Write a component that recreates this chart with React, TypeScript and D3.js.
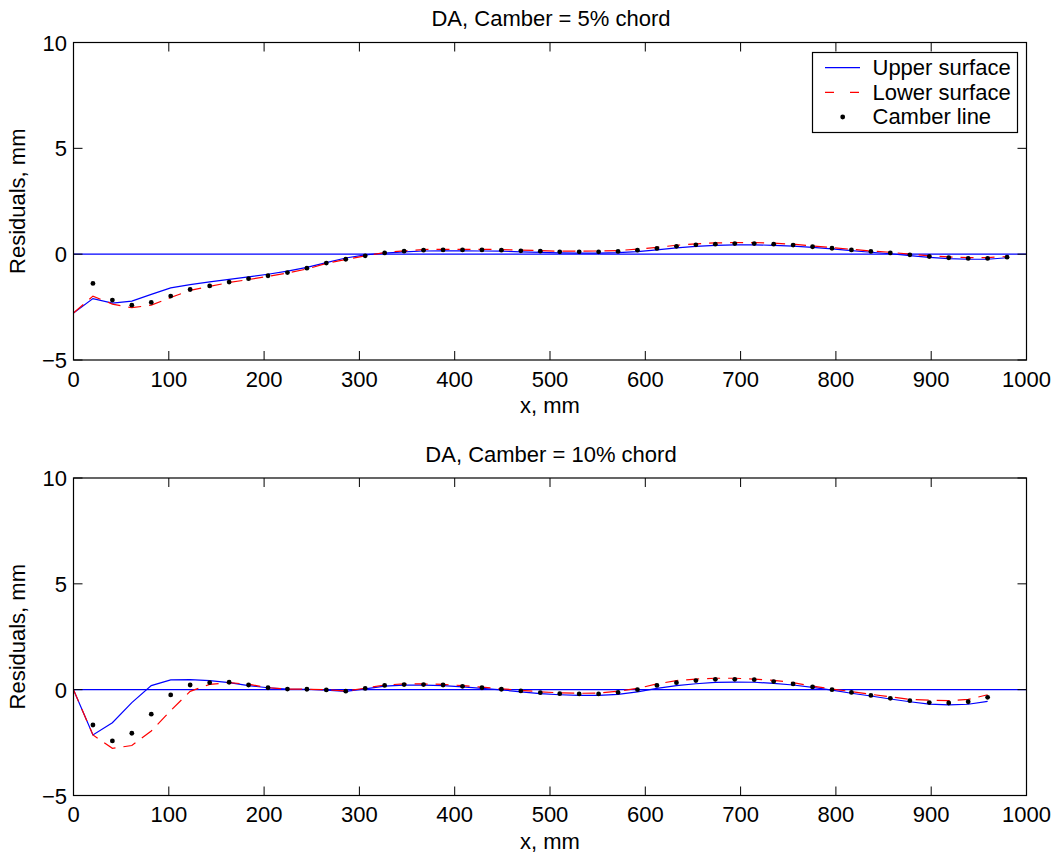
import React from "react";
import * as d3 from "d3";

// x positions of the stations (mm)
const stationsX = [
  0, 20.4, 40.8, 61.2, 81.6, 102.0, 122.4, 142.9, 163.3, 183.7, 204.1, 224.5, 244.9,
  265.3, 285.7, 306.1, 326.5, 346.9, 367.3, 387.8, 408.2, 428.6, 449.0, 469.4, 489.8,
  510.2, 530.6, 551.0, 571.4, 591.8, 612.2, 632.7, 653.1, 673.5, 693.9, 714.3, 734.7,
  755.1, 775.5, 795.9, 816.3, 836.7, 857.1, 877.6, 898.0, 918.4, 938.8, 959.2, 979.6,
];

const xTicks = [0, 100, 200, 300, 400, 500, 600, 700, 800, 900, 1000];
const yTicks = [-5, 0, 5, 10];
const yTickLabels = ["\u22125", "0", "5", "10"];

// Panel 1: camber = 5% chord (stations 0..48)
const upper5 = [
  -2.78, -2.1, -2.31, -2.22, -1.9, -1.59, -1.44, -1.31, -1.19, -1.07, -0.95, -0.8, -0.62,
  -0.4, -0.18, -0.03, 0.05, 0.11, 0.15, 0.16, 0.16, 0.15, 0.14, 0.11, 0.08,
  0.06, 0.05, 0.05, 0.07, 0.12, 0.2, 0.3, 0.37, 0.42, 0.44, 0.44, 0.42,
  0.38, 0.32, 0.25, 0.17, 0.09, 0.02, -0.07, -0.15, -0.21, -0.24, -0.24, -0.17,
];
const lower5 = [
  -2.78, -1.98, -2.36, -2.53, -2.41, -2.05, -1.71, -1.52, -1.34, -1.2, -1.05, -0.89, -0.7,
  -0.44, -0.25, -0.08, 0.07, 0.16, 0.22, 0.23, 0.23, 0.23, 0.22, 0.19, 0.17,
  0.14, 0.14, 0.15, 0.17, 0.24, 0.32, 0.42, 0.49, 0.53, 0.55, 0.55, 0.52,
  0.47, 0.39, 0.31, 0.23, 0.15, 0.09, 0.0, -0.08, -0.13, -0.16, -0.16, -0.11,
];
// camber dots at stations 1..48
const camber5 = [
  -1.38, -2.17, -2.41, -2.28, -1.98, -1.67, -1.5, -1.32, -1.16, -1.02, -0.87, -0.66,
  -0.42, -0.24, -0.08, 0.06, 0.14, 0.19, 0.2, 0.2, 0.2, 0.19, 0.16, 0.14,
  0.11, 0.11, 0.11, 0.13, 0.19, 0.27, 0.37, 0.44, 0.47, 0.5, 0.5, 0.47,
  0.43, 0.35, 0.28, 0.2, 0.13, 0.06, -0.03, -0.11, -0.17, -0.2, -0.2, -0.14,
];

// Panel 2: camber = 10% chord (stations 0..47)
const upper10 = [
  0.0, -2.14, -1.56, -0.61, 0.19, 0.46, 0.47, 0.43, 0.33, 0.19, 0.09, 0.03, 0.02,
  -0.02, -0.08, 0.04, 0.17, 0.21, 0.21, 0.19, 0.13, 0.06, -0.01, -0.1, -0.19,
  -0.24, -0.27, -0.27, -0.22, -0.1, 0.06, 0.19, 0.28, 0.34, 0.36, 0.35, 0.3,
  0.22, 0.11, -0.02, -0.17, -0.3, -0.44, -0.57, -0.68, -0.72, -0.69, -0.55,
];
const lower10 = [
  0.0, -2.14, -2.77, -2.64, -1.95, -0.99, -0.08, 0.25, 0.33, 0.26, 0.09, 0.03, 0.02,
  0.0, -0.06, 0.07, 0.22, 0.27, 0.27, 0.25, 0.19, 0.12, 0.04, -0.03, -0.1,
  -0.15, -0.17, -0.16, -0.07, 0.06, 0.27, 0.43, 0.5, 0.54, 0.54, 0.5, 0.44,
  0.33, 0.17, 0.03, -0.09, -0.22, -0.34, -0.46, -0.5, -0.52, -0.46, -0.24,
];
// camber dots at stations 1..47
const camber10 = [
  -1.67, -2.42, -2.06, -1.16, -0.25, 0.22, 0.33, 0.35, 0.22, 0.09, 0.03, 0.02,
  -0.01, -0.07, 0.06, 0.2, 0.24, 0.24, 0.22, 0.16, 0.09, 0.02, -0.06, -0.14,
  -0.19, -0.2, -0.2, -0.13, 0.0, 0.2, 0.33, 0.43, 0.49, 0.49, 0.47, 0.38,
  0.27, 0.13, 0.0, -0.13, -0.27, -0.41, -0.52, -0.61, -0.63, -0.57, -0.36,
];

const legendLabels = ["Upper surface", "Lower surface", "Camber line"];

const FONT = "'Liberation Sans', Arial, Helvetica, sans-serif";
const FS = 22;
const LEFT = 73.5;
const RIGHT = 1026.5;
const H = 317.5;
const TICK = 9;
const DASH = "13,8";

type PanelProps = {
  top: number;
  title: string;
  upper: number[];
  lower: number[];
  camber: number[];
  legend?: boolean;
};

function Panel({ top, title, upper, lower, camber, legend }: PanelProps) {
  const x = d3.scaleLinear().domain([0, 1000]).range([LEFT, RIGHT]);
  const y = d3.scaleLinear().domain([-5, 10]).range([top + H, top]);
  const bottom = top + H;
  const mid = (LEFT + RIGHT) / 2;

  const upPts: [number, number][] = upper.map((v, i) => [stationsX[i], v]);
  const loPts: [number, number][] = lower.map((v, i) => [stationsX[i], v]);
  const line = d3
    .line<[number, number]>()
    .x((d) => x(d[0]))
    .y((d) => y(d[1]));

  return (
    <g>
      <rect x={LEFT} y={top} width={RIGHT - LEFT} height={H} fill="#fff" />
      {/* zero line */}
      <line x1={x(0)} x2={x(1000)} y1={y(0)} y2={y(0)} stroke="#0000ff" strokeWidth={1.2} />
      <path d={line(upPts) || ""} fill="none" stroke="#0000ff" strokeWidth={1.2} />
      <path
        d={line(loPts) || ""}
        fill="none"
        stroke="#ff0000"
        strokeWidth={1.2}
        strokeDasharray={DASH}
      />
      {camber.map((v, i) => (
        <circle key={i} cx={x(stationsX[i + 1])} cy={y(v)} r={2.4} fill="#000" />
      ))}

      {/* frame */}
      <rect
        x={LEFT}
        y={top}
        width={RIGHT - LEFT}
        height={H}
        fill="none"
        stroke="#000"
        strokeWidth={1.2}
      />
      {/* x ticks */}
      {xTicks.map((t) => (
        <g key={"x" + t}>
          <line x1={x(t)} x2={x(t)} y1={bottom} y2={bottom - TICK} stroke="#000" strokeWidth={1} />
          <line x1={x(t)} x2={x(t)} y1={top} y2={top + TICK} stroke="#000" strokeWidth={1} />
          <text
            x={x(t)}
            y={bottom + 26.5}
            textAnchor="middle"
            fontFamily={FONT}
            fontSize={FS}
            fill="#000"
          >
            {t}
          </text>
        </g>
      ))}
      {/* y ticks */}
      {yTicks.map((t, i) => (
        <g key={"y" + t}>
          <line x1={LEFT} x2={LEFT + TICK} y1={y(t)} y2={y(t)} stroke="#000" strokeWidth={1} />
          <line x1={RIGHT} x2={RIGHT - TICK} y1={y(t)} y2={y(t)} stroke="#000" strokeWidth={1} />
          <text
            x={LEFT - 6.5}
            y={y(t) + 8}
            textAnchor="end"
            fontFamily={FONT}
            fontSize={FS}
            fill="#000"
          >
            {yTickLabels[i]}
          </text>
        </g>
      ))}
      {/* title & labels */}
      <text x={mid + 1} y={top - 16.5} textAnchor="middle" fontFamily={FONT} fontSize={FS} fill="#000">
        {title}
      </text>
      <text x={mid} y={bottom + 53} textAnchor="middle" fontFamily={FONT} fontSize={FS} fill="#000">
        x, mm
      </text>
      <text
        transform={`translate(25, ${(top + bottom) / 2}) rotate(-90)`}
        textAnchor="middle"
        fontFamily={FONT}
        fontSize={FS}
        fill="#000"
      >
        Residuals, mm
      </text>

      {legend && (
        <g>
          <rect x={812.5} y={52.5} width={205} height={80} fill="#fff" stroke="#000" strokeWidth={1.2} />
          <line x1={825} x2={860} y1={67.7} y2={67.7} stroke="#0000ff" strokeWidth={1.2} />
          <line
            x1={825}
            x2={860}
            y1={92.3}
            y2={92.3}
            stroke="#ff0000"
            strokeWidth={1.2}
            strokeDasharray="9,16"
          />
          <circle cx={842.7} cy={117} r={2.4} fill="#000" />
          {legendLabels.map((l, i) => (
            <text
              key={l}
              x={872.5}
              y={75 + i * 24.5}
              fontFamily={FONT}
              fontSize={FS}
              fill="#000"
            >
              {l}
            </text>
          ))}
        </g>
      )}
    </g>
  );
}

export default function App() {
  return (
    <svg
      width={1058}
      height={854}
      style={{ position: "absolute", left: 0, top: 0, background: "#fff" }}
    >
      <rect x={0} y={0} width={1058} height={854} fill="#fff" />
      <Panel
        top={42.5}
        title="DA, Camber = 5% chord"
        upper={upper5}
        lower={lower5}
        camber={camber5}
        legend
      />
      <Panel
        top={478}
        title="DA, Camber = 10% chord"
        upper={upper10}
        lower={lower10}
        camber={camber10}
      />
    </svg>
  );
}
